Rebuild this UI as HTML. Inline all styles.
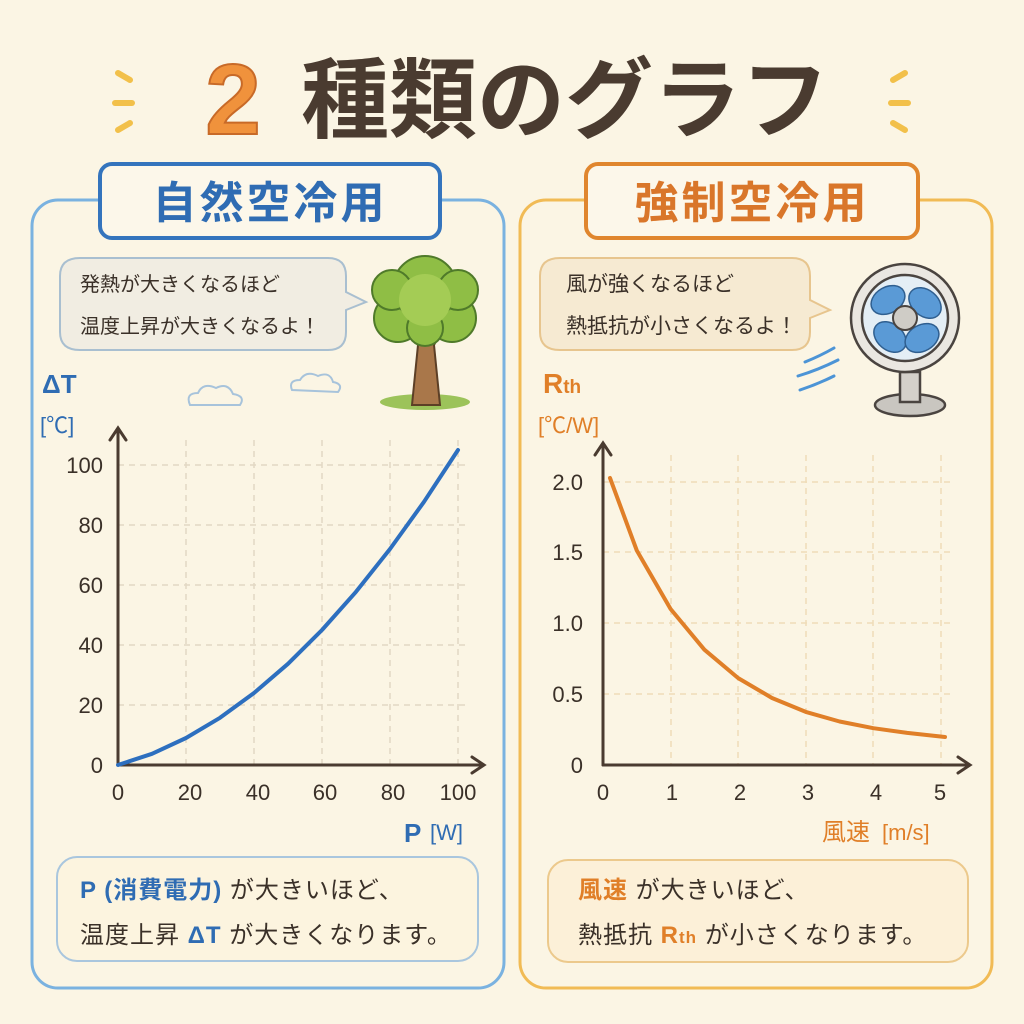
<!DOCTYPE html>
<html><head><meta charset="utf-8"><style>
html,body{margin:0;padding:0;background:#fbf5e4;}
svg{display:block;font-family:"Liberation Sans","Noto Sans CJK JP",sans-serif;}
</style></head><body>
<svg width="1024" height="1024" viewBox="0 0 1024 1024" xmlns="http://www.w3.org/2000/svg">
<rect width="1024" height="1024" fill="#fbf5e4"/>
<!-- title -->
<g stroke="#f2c04a" stroke-width="6" stroke-linecap="round">
<line x1="118" y1="73" x2="130" y2="80"/><line x1="115" y1="103" x2="132" y2="103"/><line x1="118" y1="130" x2="130" y2="123"/>
<line x1="905" y1="73" x2="893" y2="80"/><line x1="908" y1="103" x2="891" y2="103"/><line x1="905" y1="130" x2="893" y2="123"/>
</g>
<text x="233" y="134" font-size="100" font-weight="bold" fill="#f0923c" stroke="#c86a28" stroke-width="2" text-anchor="middle">2</text>
<text x="565" y="131" font-size="88" font-weight="bold" fill="#4a3b30" text-anchor="middle">種類のグラフ</text>
<!-- panels -->
<rect x="32" y="200" width="472" height="788" rx="26" fill="none" stroke="#7ab2e0" stroke-width="3"/>
<rect x="520" y="200" width="472" height="788" rx="26" fill="none" stroke="#f1bb55" stroke-width="3"/>
<rect x="100" y="164" width="340" height="74" rx="12" fill="#fcf7ea" stroke="#3474bd" stroke-width="4"/>
<text x="270" y="218" font-size="44" font-weight="bold" fill="#2f6cb3" text-anchor="middle" letter-spacing="3">自然空冷用</text>
<rect x="586" y="164" width="332" height="74" rx="12" fill="#fcf7ea" stroke="#e0862e" stroke-width="4"/>
<text x="752" y="218" font-size="44" font-weight="bold" fill="#d9762a" text-anchor="middle" letter-spacing="3">強制空冷用</text>
<!-- speech bubbles -->
<path d="M80 258 H328 Q346 258 346 276 V292 L366 302 L346 310 V332 Q346 350 328 350 H80 Q60 350 60 332 V276 Q60 258 80 258Z" fill="#f1ede2" stroke="#a9bfd0" stroke-width="2"/>
<text x="80" y="291" font-size="20" fill="#3a3028">発熱が大きくなるほど</text>
<text x="80" y="333" font-size="20" fill="#3a3028">温度上昇が大きくなるよ！</text>
<path d="M560 258 H792 Q810 258 810 276 V300 L830 310 L810 318 V332 Q810 350 792 350 H560 Q540 350 540 332 V276 Q540 258 560 258Z" fill="#f6ead2" stroke="#e7c58e" stroke-width="2"/>
<text x="566" y="291" font-size="21" fill="#3a3028">風が強くなるほど</text>
<text x="566" y="333" font-size="21" fill="#3a3028">熱抵抗が小さくなるよ！</text>
<!-- tree -->
<ellipse cx="425" cy="402" rx="45" ry="8" fill="#9cc35a"/>
<path d="M412 405 L418 345 L404 325 L416 330 L425 315 L434 330 L446 322 L434 345 L440 405Z" fill="#a9774a" stroke="#5c3f26" stroke-width="2"/>
<g fill="#8fbe45" stroke="#4f7a2a" stroke-width="2">
<circle cx="398" cy="318" r="24"/><circle cx="452" cy="318" r="24"/><circle cx="425" cy="288" r="32"/><circle cx="392" cy="290" r="20"/><circle cx="458" cy="290" r="20"/><circle cx="425" cy="328" r="18"/>
</g>
<circle cx="425" cy="300" r="26" fill="#a4cc55"/>
<!-- clouds -->
<g fill="none" stroke="#a7c3db" stroke-width="2">
<path d="M190 405 Q185 393 198 393 Q203 382 216 388 Q228 382 233 394 Q246 396 240 405 Z"/>
<path d="M292 390 Q288 380 300 380 Q306 370 318 376 Q330 371 333 382 Q344 384 338 392 Z"/>
</g>
<!-- fan -->
<g stroke="#4a4440" stroke-width="2.5">
<ellipse cx="910" cy="405" rx="35" ry="11" fill="#c9c6c0"/>
<rect x="900" y="372" width="20" height="30" fill="#d4d0ca"/>
<circle cx="905" cy="318" r="54" fill="#eae7e1"/>
<circle cx="905" cy="318" r="43" fill="#e4eef5"/>
</g>
<g fill="#5a9ad6" stroke="#2f5f90" stroke-width="1.5">
<ellipse cx="888" cy="300" rx="18" ry="13" transform="rotate(-30 888 300)"/>
<ellipse cx="925" cy="303" rx="18" ry="13" transform="rotate(40 925 303)"/>
<ellipse cx="890" cy="337" rx="18" ry="13" transform="rotate(40 890 337)"/>
<ellipse cx="922" cy="338" rx="18" ry="13" transform="rotate(-30 922 338)"/>
</g>
<circle cx="905" cy="318" r="12" fill="#cfccc6" stroke="#4a4440" stroke-width="2"/>
<g stroke="#4c94d6" stroke-width="3" fill="none" stroke-linecap="round">
<path d="M805 362 Q820 356 834 348"/><path d="M798 376 Q818 370 838 360"/><path d="M800 390 Q818 384 834 376"/>
</g>
<!-- left chart grid -->
<g stroke="#e2d8c4" stroke-width="1.5" stroke-dasharray="6 5">
<line x1="118" y1="465" x2="470" y2="465"/><line x1="118" y1="525" x2="470" y2="525"/><line x1="118" y1="585" x2="470" y2="585"/><line x1="118" y1="645" x2="470" y2="645"/><line x1="118" y1="705" x2="470" y2="705"/>
<line x1="186" y1="440" x2="186" y2="765"/><line x1="254" y1="440" x2="254" y2="765"/><line x1="322" y1="440" x2="322" y2="765"/><line x1="390" y1="440" x2="390" y2="765"/><line x1="458" y1="440" x2="458" y2="765"/>
</g>
<g stroke="#4a3b30" stroke-width="3" fill="none" stroke-linecap="round">
<line x1="118" y1="765" x2="118" y2="430"/><path d="M110 440 L118 428 L126 440"/>
<line x1="118" y1="765" x2="482" y2="765"/><path d="M472 757 L484 765 L472 773"/>
</g>
<g font-size="22" fill="#3a3028" text-anchor="end">
<text x="103" y="473">100</text><text x="103" y="533">80</text><text x="103" y="593">60</text><text x="103" y="653">40</text><text x="103" y="713">20</text><text x="103" y="773">0</text>
</g>
<g font-size="22" fill="#3a3028" text-anchor="middle">
<text x="118" y="800">0</text><text x="190" y="800">20</text><text x="258" y="800">40</text><text x="325" y="800">60</text><text x="393" y="800">80</text><text x="458" y="800">100</text>
</g>
<path d="M118 765 L152 753.8 L186 738 L220 717.8 L254 693 L288 663.8 L322 630 L356 591.8 L390 549 L424 501.8 L458 450" fill="none" stroke="#2d6fbf" stroke-width="4" stroke-linejoin="round" stroke-linecap="round"/>
<text x="42" y="393" font-size="26" font-weight="bold" fill="#2f6cb3">ΔT</text>
<text x="40" y="433" font-size="22" fill="#2f6cb3">[℃]</text>
<text x="404" y="842" font-size="26" font-weight="bold" fill="#2f6cb3">P</text>
<text x="430" y="840" font-size="22" fill="#2f6cb3">[W]</text>
<!-- right chart -->
<g stroke="#efdcb8" stroke-width="1.5" stroke-dasharray="6 5">
<line x1="603" y1="482" x2="955" y2="482"/><line x1="603" y1="552" x2="955" y2="552"/><line x1="603" y1="623" x2="955" y2="623"/><line x1="603" y1="694" x2="955" y2="694"/>
<line x1="671" y1="455" x2="671" y2="765"/><line x1="738" y1="455" x2="738" y2="765"/><line x1="806" y1="455" x2="806" y2="765"/><line x1="873" y1="455" x2="873" y2="765"/><line x1="941" y1="455" x2="941" y2="765"/>
</g>
<g stroke="#4a3b30" stroke-width="3" fill="none" stroke-linecap="round">
<line x1="603" y1="765" x2="603" y2="445"/><path d="M595 455 L603 443 L611 455"/>
<line x1="603" y1="765" x2="968" y2="765"/><path d="M958 757 L970 765 L958 773"/>
</g>
<g font-size="22" fill="#3a3028" text-anchor="end">
<text x="583" y="490">2.0</text><text x="583" y="560">1.5</text><text x="583" y="631">1.0</text><text x="583" y="702">0.5</text><text x="583" y="773">0</text>
</g>
<g font-size="22" fill="#3a3028" text-anchor="middle">
<text x="603" y="800">0</text><text x="672" y="800">1</text><text x="740" y="800">2</text><text x="808" y="800">3</text><text x="876" y="800">4</text><text x="940" y="800">5</text>
</g>
<path d="M610 478 L636.8 550.5 L670.6 609 L704.4 649.7 L738.2 678.1 L772 698 L805.8 711.9 L839.6 721.5 L873.4 728.2 L907.2 732.9 L945 737" fill="none" stroke="#e07f28" stroke-width="4" stroke-linejoin="round" stroke-linecap="round"/>
<text x="543" y="393" font-size="28" font-weight="bold" fill="#e07f28">R<tspan font-size="19">th</tspan></text>
<text x="538" y="433" font-size="22" fill="#e07f28">[℃/W]</text>
<text x="822" y="840" font-size="24" fill="#e07f28">風速</text>
<text x="882" y="840" font-size="22" fill="#e07f28">[m/s]</text>
<!-- bottom boxes -->
<rect x="57" y="857" width="421" height="104" rx="20" fill="#fcf4df" stroke="#a9c6de" stroke-width="2"/>
<text x="80" y="898" font-size="24" fill="#3a3028" letter-spacing="1"><tspan fill="#2f6cb3" font-weight="bold">P (消費電力)</tspan> が大きいほど、</text>
<text x="80" y="943" font-size="24" fill="#3a3028" letter-spacing="1">温度上昇 <tspan fill="#2f6cb3" font-weight="bold">ΔT</tspan> が大きくなります。</text>
<rect x="548" y="860" width="420" height="102" rx="20" fill="#fcf0d8" stroke="#ecc98c" stroke-width="2"/>
<text x="578" y="898" font-size="24" fill="#3a3028" letter-spacing="1"><tspan fill="#e07f28" font-weight="bold">風速</tspan> が大きいほど、</text>
<text x="578" y="943" font-size="24" fill="#3a3028" letter-spacing="1">熱抵抗 <tspan fill="#e07f28" font-weight="bold">R<tspan font-size="17">th</tspan></tspan> が小さくなります。</text>
</svg>
</body></html>
